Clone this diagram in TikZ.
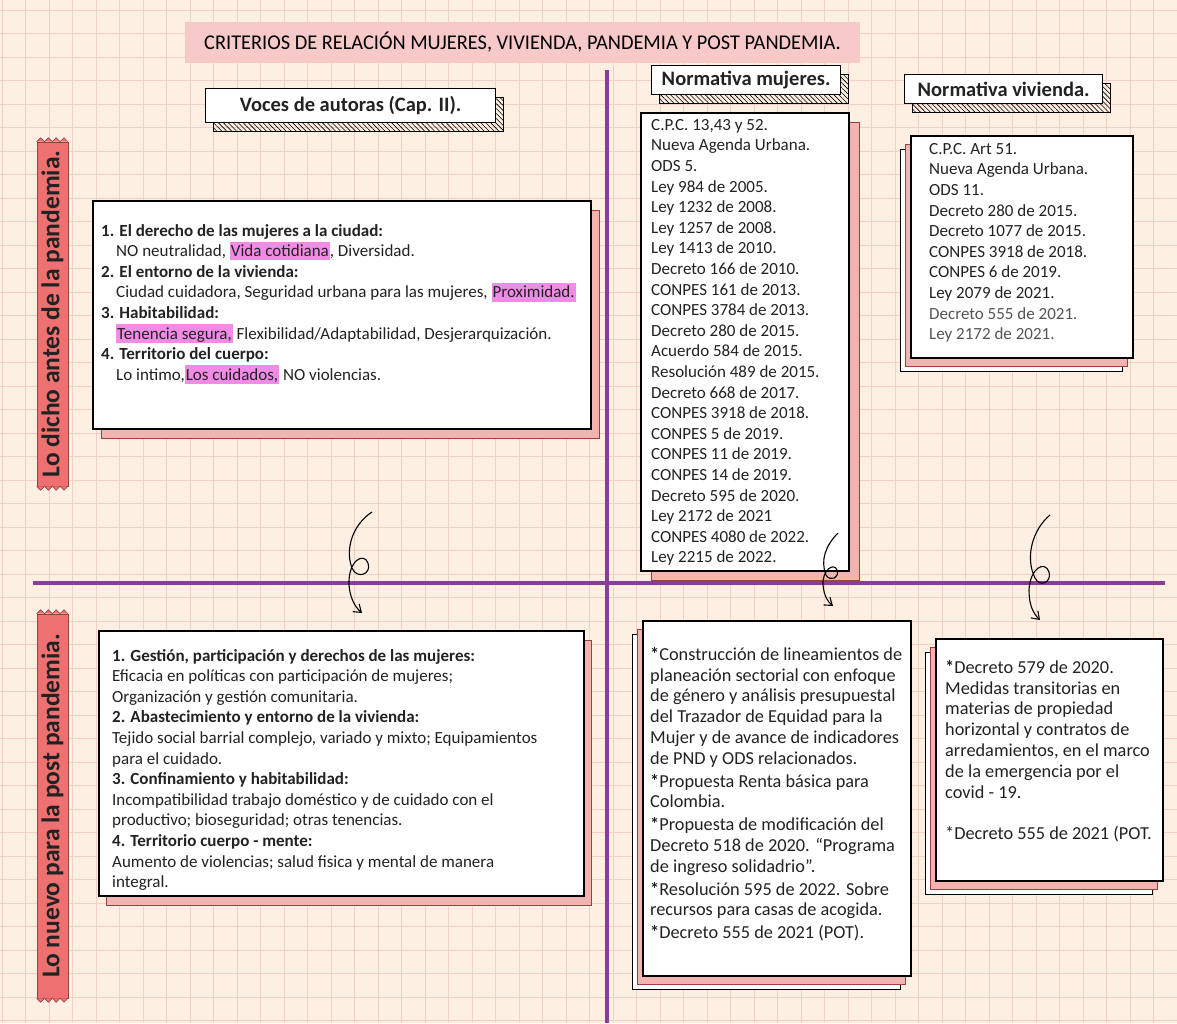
\documentclass[tikz,border=0pt]{standalone}
\usepackage{fontspec}
\setmainfont{Carlito}
\usetikzlibrary{arrows.meta,patterns.meta,shadows}

\definecolor{paper}{HTML}{FDF0E3}
\definecolor{gridpink}{HTML}{F3CFC6}
\definecolor{bandpink}{HTML}{F8C9C9}
\definecolor{ribbonred}{HTML}{EE7070}
\definecolor{linepurple}{HTML}{8B3D93}
\definecolor{shadowpink}{HTML}{F2B3B1}
\definecolor{shadowedge}{HTML}{9C3F3F}
\definecolor{hlpink}{HTML}{F28BE6}
\definecolor{inkgray}{HTML}{222222}
\definecolor{softgray}{HTML}{555555}

\newcommand\hlword[1]{{\setlength\fboxsep{1pt}\colorbox{hlpink}{\vphantom{Áy}#1}}}

\begin{document}
\begin{tikzpicture}[x=1pt, y=-1pt,
    sheet/.style={draw=black, line width=2pt, fill=white, anchor=north west},
    pinkback/.style={general shadow={shadow xshift=#1, shadow yshift=-9pt, fill=shadowpink, draw=shadowedge, line width=1pt}},
    stackback/.style={general shadow={shadow xshift=-11pt, shadow yshift=-13pt, fill=white, draw=black, line width=0.9pt},
                      general shadow={shadow xshift=-6pt, shadow yshift=-8pt, fill=shadowpink, draw=shadowedge, line width=0.9pt}},
    tagbox/.style={draw=black, line width=1.3pt, fill=white, anchor=north west, inner sep=0pt,
                   general shadow={shadow xshift=8pt, shadow yshift=-9pt, draw=black, line width=0.8pt,
                                   pattern={Lines[angle=-45, distance=3.5pt, line width=0.6pt]}}},
    tagtext/.style={font=\fontsize{20.5}{24}\selectfont\bfseries, text=inkgray},
    bodytext/.style={anchor=north west, inner sep=0pt, align=left, font=\fontsize{17}{20.6}\selectfont, text=inkgray},
    bigtext/.style={bodytext, font=\fontsize{18.3}{20.8}\selectfont},
    ribbon/.style={fill=ribbonred, draw=ribbonred!60!black, line width=0.6pt, minimum width=31pt, inner sep=0pt},
    fray/.style={fill=ribbonred, draw=ribbonred!60!black, line width=0.6pt},
    ribbontext/.style={rotate=90, font=\fontsize{25.5}{30}\selectfont\bfseries, text=inkgray},
    divider/.style={draw=linepurple, line width=4.5pt},
    curl/.style={draw=black, line width=1.1pt, -{Straight Barb[length=7pt, width=10pt]}}
]
\useasboundingbox (0,0) rectangle (1177,1023);

% Paper and grid
\fill[paper] (0,0) rectangle (1177,1023);
\foreach \gx in {2,25.5,...,1177} \draw[gridpink, line width=0.8pt] (\gx,0) -- (\gx,1023);
\foreach \gy in {10,33.5,...,1023} \draw[gridpink, line width=0.8pt] (0,\gy) -- (1177,\gy);

% Title
\node[fill=bandpink, minimum width=675pt, minimum height=41pt] (title) at (522.5,42.5)
    {\scalebox{0.97}[1]{\fontsize{21}{24}\selectfont CRITERIOS DE RELACIÓN MUJERES, VIVIENDA, PANDEMIA Y POST PANDEMIA.}};

% Dividers
\draw[divider] (607,70) -- (607,1023);
\draw[divider] (33,583) -- (1165,583);

% Side ribbons
\node[ribbon, minimum height=344pt] (antes) at (52.5,314) {};
\draw[fray] (antes.north west) \foreach \k in {1,...,4} {-- ++(3.9,-4) -- ++(3.9,4)};
\draw[fray] (antes.south west) \foreach \k in {1,...,4} {-- ++(3.9,4) -- ++(3.9,-4)};
\node[ribbontext] (antestitle) at (antes.center) {Lo dicho antes de la pandemia.};
\node[ribbon, minimum height=384pt] (post) at (52.5,806) {};
\draw[fray] (post.north west) \foreach \k in {1,...,4} {-- ++(3.9,-4) -- ++(3.9,4)};
\draw[fray] (post.south west) \foreach \k in {1,...,4} {-- ++(3.9,4) -- ++(3.9,-4)};
\node[ribbontext] (posttitle) at (post.center) {Lo nuevo para la post pandemia.};

% Tags
\node[tagbox, minimum width=290pt, minimum height=34pt] (voces) at (205,88) {};
\node[tagtext] at (voces.center) {Voces de autoras (Cap. II).};
\node[tagbox, minimum width=189pt, minimum height=29pt] (normM) at (651,65) {};
\node[tagtext] at (normM.center) {Normativa mujeres.};
\node[tagbox, minimum width=198pt, minimum height=29pt] (normV) at (904,74) {};
\node[tagtext] at (normV.center) {Normativa vivienda.};

% Before the pandemic
\node[sheet, pinkback=8pt, minimum width=498pt, minimum height=228pt] (antesbox) at (92,200) {};
\node[bodytext] (antestxt) at (101,224) {%
    \textbf{1. El derecho de las mujeres a la ciudad:}\\
    \hspace*{15pt}NO neutralidad, \hlword{Vida cotidiana}, Diversidad.\\
    \textbf{2. El entorno de la vivienda:}\\
    \hspace*{15pt}Ciudad cuidadora, Seguridad urbana para las mujeres, \hlword{Proximidad.}\\
    \textbf{3. Habitabilidad:}\\
    \hspace*{15pt}\hlword{Tenencia segura,} Flexibilidad/Adaptabilidad, Desjerarquización.\\
    \textbf{4. Territorio del cuerpo:}\\
    \hspace*{15pt}Lo intimo,\hlword{Los cuidados,} NO violencias.};

\node[sheet, pinkback=10pt, minimum width=208pt, minimum height=458pt] (mujlist) at (640,112) {};
\node[bodytext] (mujtxt) at (651,119) {%
    C.P.C. 13,43 y 52.\\ Nueva Agenda Urbana.\\ ODS 5.\\ Ley 984 de 2005.\\
    Ley 1232 de 2008.\\ Ley 1257 de 2008.\\ Ley 1413 de 2010.\\ Decreto 166 de 2010.\\
    CONPES 161 de 2013.\\ CONPES 3784 de 2013.\\ Decreto 280 de 2015.\\ Acuerdo 584 de 2015.\\
    Resolución 489 de 2015.\\ Decreto 668 de 2017.\\ CONPES 3918 de 2018.\\ CONPES 5 de 2019.\\
    CONPES 11 de 2019.\\ CONPES 14 de 2019.\\ Decreto 595 de 2020.\\ Ley 2172 de 2021\\
    CONPES 4080 de 2022.\\ Ley 2215 de 2022.};

\node[sheet, stackback, minimum width=222pt, minimum height=222pt] (vivlist) at (910,135) {};
\node[bodytext] (vivtxt) at (929,143) {%
    C.P.C. Art 51.\\ Nueva Agenda Urbana.\\ ODS 11.\\ Decreto 280 de 2015.\\
    Decreto 1077 de 2015.\\ CONPES 3918 de 2018.\\ CONPES 6 de 2019.\\ Ley 2079 de 2021.\\
    \textcolor{softgray}{Decreto 555 de 2021.}\\ \textcolor{softgray}{Ley 2172 de 2021.}};

% After the pandemic
\node[sheet, pinkback=7pt, minimum width=485pt, minimum height=265pt] (postbox) at (98,630) {};
\node[bodytext] (posttxt) at (112,649) {%
    \textbf{1. Gestión, participación y derechos de las mujeres:}\\
    Eficacia en políticas con participación de mujeres;\\
    Organización y gestión comunitaria.\\
    \textbf{2. Abastecimiento y entorno de la vivienda:}\\
    Tejido social barrial complejo, variado y mixto; Equipamientos\\
    para el cuidado.\\
    \textbf{3. Confinamiento y habitabilidad:}\\
    Incompatibilidad trabajo doméstico y de cuidado con el\\
    productivo; bioseguridad; otras tenencias.\\
    \textbf{4. Territorio cuerpo - mente:}\\
    Aumento de violencias; salud fisica y mental de manera\\
    integral.};

\node[sheet, stackback, minimum width=268pt, minimum height=355pt] (postmuj) at (642,620) {};
\node[bigtext] (postmujtxt) at (650,647) {%
    \textbf{*}Construcción de lineamientos de\\ planeación sectorial con enfoque\\
    de género y análisis presupuestal\\ del Trazador de Equidad para la\\
    Mujer y de avance de indicadores\\ de PND y ODS relacionados.\\[2pt]
    \textbf{*}Propuesta Renta básica para\\ Colombia.\\[2pt]
    \textbf{*}Propuesta de modificación del\\ Decreto 518 de 2020. “Programa\\ de ingreso solidadrio”.\\[2pt]
    \textbf{*}Resolución 595 de 2022. Sobre\\ recursos para casas de acogida.\\[2pt]
    \textbf{*}Decreto 555 de 2021 (POT).};

\node[sheet, stackback, minimum width=227pt, minimum height=242pt] (postviv) at (935,638) {};
\node[bigtext] (postvivtxt) at (945,660) {%
    \textbf{*}Decreto 579 de 2020.\\ Medidas transitorias en\\ materias de propiedad\\
    horizontal y contratos de\\ arredamientos, en el marco\\ de la emergencia por el\\
    covid - 19.\\[20.8pt]
    *Decreto 555 de 2021 (POT.};

% Curly arrows
\coordinate (curlA) at (372,512);  \coordinate (tipA) at (362,613);
\coordinate (curlB) at (838,533);  \coordinate (tipB) at (833,606);
\coordinate (curlC) at (1050,515); \coordinate (tipC) at (1040,620);
\draw[curl] (curlA) .. controls (352,525) and (345,550) .. (352,568)
    .. controls (357,580) and (372,574) .. (368,563)
    .. controls (364,552) and (348,560) .. (349,585)
    .. controls (350,598) and (355,607) .. (tipA);
\draw[curl] (curlB) .. controls (826,545) and (820,560) .. (826,575)
    .. controls (830,582) and (840,578) .. (837,570)
    .. controls (834,562) and (822,570) .. (823,585)
    .. controls (824,596) and (828,602) .. (tipB);
\draw[curl] (curlC) .. controls (1032,530) and (1025,558) .. (1035,578)
    .. controls (1040,588) and (1052,582) .. (1049,572)
    .. controls (1045,560) and (1030,568) .. (1029,590)
    .. controls (1029,605) and (1033,613) .. (tipC);
\end{tikzpicture}
\end{document}
